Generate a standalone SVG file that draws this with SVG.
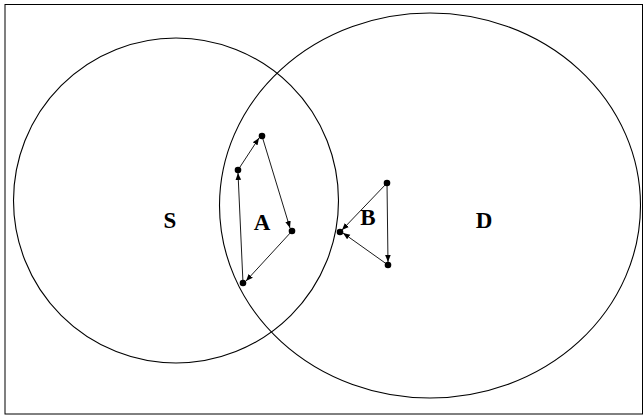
<svg xmlns="http://www.w3.org/2000/svg" width="644" height="419" viewBox="0 0 644 419">
<style>
.c{fill:none;stroke:#000;stroke-width:1.1}
.e{stroke:#000;stroke-width:0.9;fill:none}
.d{fill:#000}
.t{font-family:"Liberation Serif",serif;font-weight:bold;font-size:23px;text-anchor:middle}
</style>
<defs>
<marker id="ah" viewBox="0 0 10 10" refX="10" refY="5" markerWidth="7" markerHeight="7" orient="auto" markerUnits="userSpaceOnUse">
<path d="M0,1 L10,5 L0,9 z" fill="#000"/>
</marker>
</defs>
<rect x="5" y="4.5" width="637.5" height="409.5" fill="none" stroke="#000" stroke-width="1"/>
<g id="S"><circle class="c" cx="176" cy="200.5" r="162.5"/><text class="t" x="170" y="228">S</text></g>
<g id="D"><ellipse class="c" cx="430" cy="205.5" rx="210.5" ry="192.5"/><text class="t" x="484" y="228">D</text></g>
<g id="A"><text class="t" x="262" y="230">A</text></g>
<g id="B"><text class="t" x="368" y="225">B</text></g>
<g id="connectors">
<line class="e" x1="238" y1="170" x2="259" y2="138" marker-end="url(#ah)"/>
<line class="e" x1="262" y1="136" x2="290" y2="228" marker-end="url(#ah)"/>
<line class="e" x1="292" y1="231" x2="246" y2="281" marker-end="url(#ah)"/>
<line class="e" x1="243" y1="283" x2="238" y2="173" marker-end="url(#ah)"/>
<line class="e" x1="387" y1="183" x2="342" y2="230" marker-end="url(#ah)"/>
<line class="e" x1="387" y1="183" x2="388" y2="262" marker-end="url(#ah)"/>
<line class="e" x1="388" y1="265" x2="343" y2="233" marker-end="url(#ah)"/>
</g>
<g id="points">
<circle class="d" cx="262" cy="136" r="3.3"/>
<circle class="d" cx="238" cy="170" r="3.3"/>
<circle class="d" cx="292" cy="231" r="3.3"/>
<circle class="d" cx="243" cy="283" r="3.3"/>
<circle class="d" cx="387" cy="183" r="3.3"/>
<circle class="d" cx="340" cy="232" r="3.3"/>
<circle class="d" cx="388" cy="265" r="3.3"/>
</g>
</svg>
